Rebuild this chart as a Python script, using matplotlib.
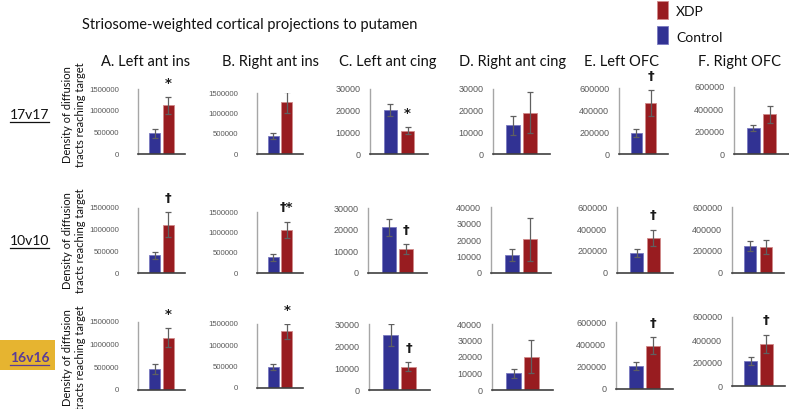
import matplotlib
matplotlib.use('Agg')
import matplotlib.pyplot as plt
from matplotlib.patches import Rectangle
from matplotlib.lines import Line2D
from matplotlib.ticker import StrMethodFormatter

plt.rcParams['font.family'] = ['Lato', 'DejaVu Sans']

# panel titles and row labels
titles = ['A. Left ant ins', 'B. Right ant ins', 'C. Left ant cing',
          'D. Right ant cing', 'E. Left OFC', 'F. Right OFC']
row_labels = ['17v17', '10v10', '16v16']
groups = ['Control', 'XDP']

# bar heights and error bars
control_17 = [480000, 440000, 20400, 13300, 190000, 234000]
control_17_err = [100000, 70000, 2900, 4400, 34000, 30000]
xdp_17 = [1120000, 1270000, 10750, 19100, 465000, 357000]
xdp_17_err = [190000, 250000, 1500, 9400, 117000, 75000]

control_10 = [408000, 385000, 21100, 11000, 182000, 248000]
control_10_err = [77000, 90000, 3900, 3600, 39000, 46000]
xdp_10 = [1115000, 1057000, 10900, 20400, 318000, 239000]
xdp_10_err = [285000, 205000, 2300, 13200, 76000, 64000]

control_16 = [465000, 492000, 24850, 10150, 210000, 219000]
control_16_err = [111000, 78000, 5000, 2650, 36000, 35000]
xdp_16 = [1153000, 1328000, 10600, 20300, 387000, 369000]
xdp_16_err = [207000, 172000, 2000, 10150, 78000, 78000]

sig_17 = ['*', '*', '*', '', '\u2020', '']
sig_10 = ['\u2020', '\u2020*', '\u2020', '', '\u2020', '']
sig_16 = ['*', '*', '\u2020', '', '\u2020', '\u2020']

# axis maxima and tick steps
ymax_17 = [1500000, 1500000, 30000, 30000, 600000, 600000]
ymax_10 = [1500000, 1500000, 30000, 40000, 600000, 600000]
ymax_16 = [1500000, 1500000, 30000, 40000, 600000, 600000]
ystep_17 = [500000, 500000, 10000, 10000, 200000, 200000]
ystep_10 = [500000, 500000, 10000, 10000, 200000, 200000]
ystep_16 = [500000, 500000, 10000, 10000, 200000, 200000]

rows = [
    (control_17, control_17_err, xdp_17, xdp_17_err, sig_17, ymax_17, ystep_17),
    (control_10, control_10_err, xdp_10, xdp_10_err, sig_10, ymax_10, ystep_10),
    (control_16, control_16_err, xdp_16, xdp_16_err, sig_16, ymax_16, ystep_16),
]

W, H = 789, 409
BLUE = '#313293'
RED = '#981c20'

# axes rectangles in pixels: left, top, right, bottom
rects = [
    [(138, 89, 185, 154), (257, 93, 303, 154), (370, 89, 428, 154),
     (493, 89, 550, 154), (619, 88, 668, 154), (734, 87, 789, 154)],
    [(138, 208, 185, 273), (257, 212, 303, 273), (368, 208, 427, 273),
     (491, 207, 551, 273), (617, 207, 673, 273), (732, 207, 784, 273)],
    [(138, 322, 185, 390), (257, 324, 303, 388), (369, 324, 430, 390),
     (492, 324, 553, 390), (616, 322, 673, 389), (732, 317, 785, 386)],
]
title_x = [146, 271, 388, 513, 622, 740]
row_y = [115, 241, 358]

fig = plt.figure(figsize=(W / 100, H / 100), dpi=100)

for r, (ctl, ctl_err, xdp, xdp_err, sig, ymax, ystep) in enumerate(rows):
    for c in range(6):
        l, t, rr, b = rects[r][c]
        ax = fig.add_axes([l / W, 1 - b / H, (rr - l) / W, (b - t) / H])
        ax.bar([0, 1], [ctl[c], xdp[c]], width=0.8, color=[BLUE, RED],
               edgecolor=['#7a7ac0', '#d08a8a'], linewidth=0.6, zorder=2)
        ax.errorbar([0, 1], [ctl[c], xdp[c]], yerr=[ctl_err[c], xdp_err[c]],
                    fmt='none', ecolor='#606060', elinewidth=0.9, capsize=2.5,
                    capthick=0.9, zorder=3)
        if sig[c]:
            ax.annotate(sig[c], (1, xdp[c] + xdp_err[c]), xytext=(0, 10),
                        textcoords='offset points', ha='center', va='center',
                        fontsize=9.5, color='#1a1a1a', weight='bold',
                        family=['DejaVu Sans'])
        ax.set_xlim(-1.2, 2.2)
        ax.set_ylim(0, ymax[c])
        ax.set_yticks(range(0, ymax[c] + 1, ystep[c]))
        ax.yaxis.set_major_formatter(StrMethodFormatter('{x:.0f}'))
        ax.set_xticks([])
        for s in ['top', 'right']:
            ax.spines[s].set_visible(False)
        ax.spines['left'].set_color('#a6a6a6')
        ax.spines['left'].set_linewidth(1.0)
        ax.spines['bottom'].set_color('#404040')
        ax.spines['bottom'].set_linewidth(1.2)
        ax.patch.set_alpha(0)
        ax.tick_params(axis='y', length=0, labelcolor='#595959',
                       labelsize=5.6 if c < 2 else 6.5,
                       pad=13.5 if c < 2 else 7)
        for lab in ax.get_yticklabels():
            lab.set_family(['Liberation Sans'])
        if r == 0:
            fig.text(title_x[c] / W, 1 - 62 / H, titles[c], ha='center',
                     va='center', fontsize=10.5, color='#111111')

    # y label for the row
    fig.text(74 / W, 1 - row_y[r] / H, 'Density of diffusion\ntracts reaching target',
             rotation=90, ha='center', va='center', fontsize=8,
             linespacing=1.2, multialignment='center', color='#111111')

fig.text(250 / W, 1 - 25 / H, 'Striosome-weighted cortical projections to putamen',
         ha='center', va='center', fontsize=10.5, color='#111111')

# 16v16 highlight box
fig.patches.append(Rectangle((0, 1 - 370 / H), 55 / W, 30 / H,
                             transform=fig.transFigure, facecolor='#e6b430',
                             edgecolor='none', zorder=0))
row_texts = []
for r, lab in enumerate(row_labels):
    col = '#5a3c98' if r == 2 else '#111111'
    wt = 'bold' if r == 2 else 'normal'
    row_texts.append(fig.text(29.5 / W, 1 - row_y[r] / H, lab, ha='center',
                              va='center', fontsize=10, color=col, weight=wt))

# legend
fig.patches.append(Rectangle((657 / W, 1 - 19 / H), 11 / W, 18 / H,
                             transform=fig.transFigure, facecolor=RED,
                             edgecolor='#d08a8a', linewidth=0.6))
fig.patches.append(Rectangle((657 / W, 1 - 44 / H), 11 / W, 18 / H,
                             transform=fig.transFigure, facecolor=BLUE,
                             edgecolor='#7a7ac0', linewidth=0.6))
fig.text(676 / W, 1 - 12 / H, groups[1], ha='left', va='center', fontsize=10,
         color='#111111')
fig.text(676 / W, 1 - 38 / H, groups[0], ha='left', va='center', fontsize=10,
         color='#111111')

# underline the row labels
fig.canvas.draw()
renderer = fig.canvas.get_renderer()
for t in row_texts:
    bb = t.get_window_extent(renderer)
    y = bb.y0 - 1
    fig.add_artist(Line2D([bb.x0 / W, bb.x1 / W], [y / H, y / H],
                          transform=fig.transFigure, color=t.get_color(),
                          linewidth=0.9))

fig.savefig('out.png', dpi=100)
